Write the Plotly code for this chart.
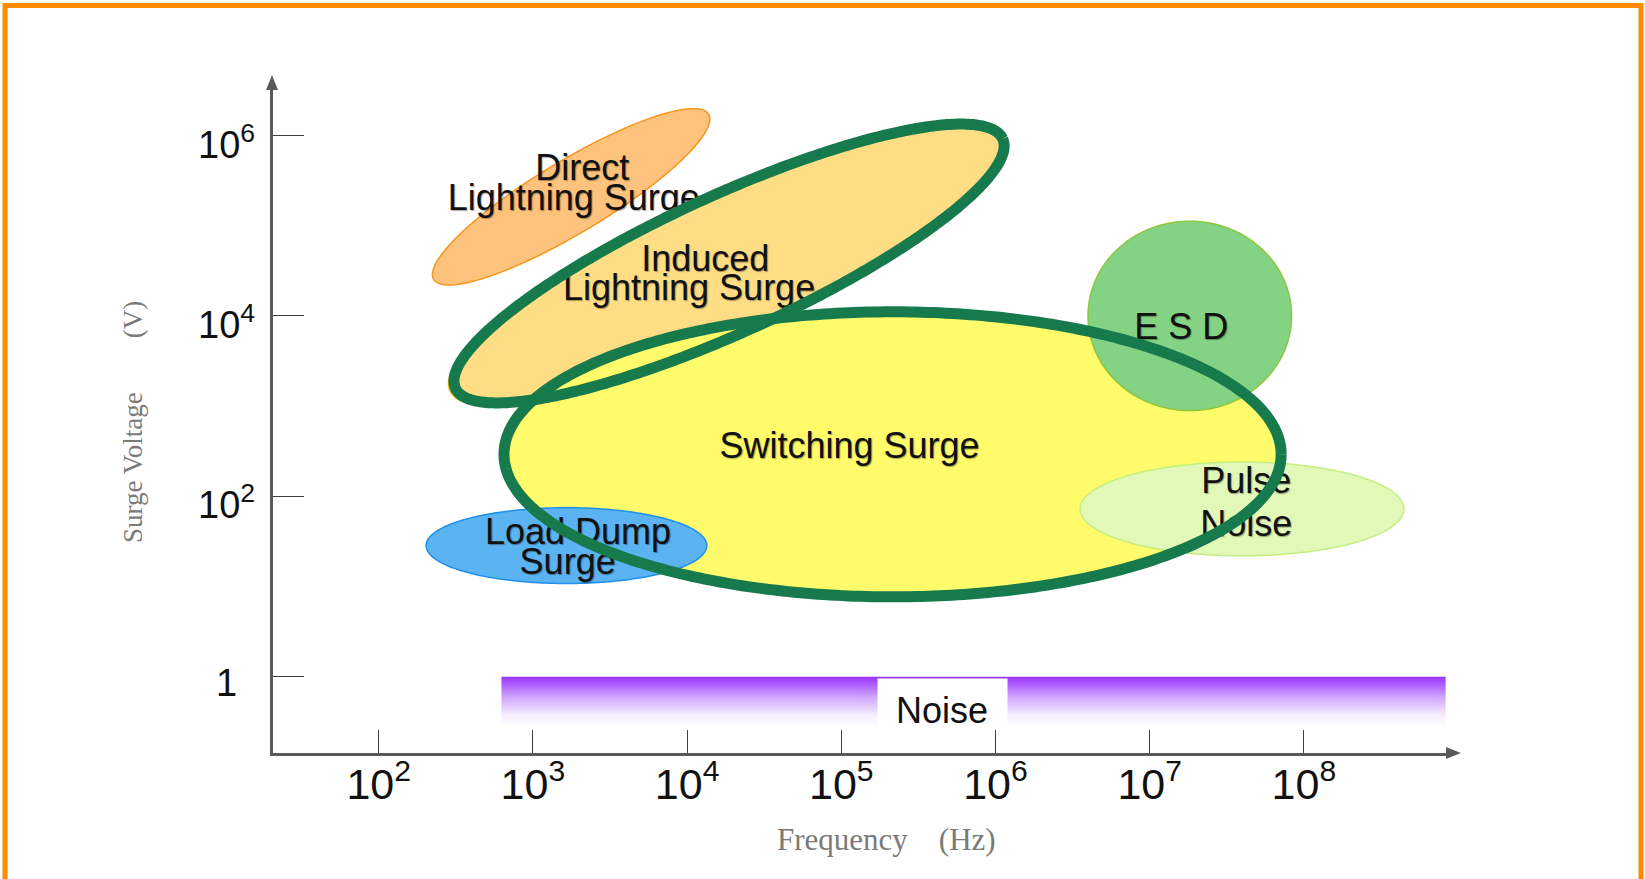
import numpy as np
import plotly.graph_objects as go

# ---- surge zones: centre frequency (Hz), centre voltage (V),
#      half extent in decades along frequency / voltage, tilt on screen (deg)
zone_names = ["Direct Lightning Surge", "Induced Lightning Surge", "Switching Surge",
              "Load Dump Surge", "ESD", "Pulse Noise"]
zone_freq = [1.77e3, 1.76e4, 2.15e5, 1.65e3, 1.82e7, 3.97e7]
zone_volt = [2.09e5, 3.61e4, 2.92e2, 2.84e1, 1.0e4, 7.24e1]
zone_freq_dec = [1.04, 1.96, 2.52, 0.91, 0.66, 1.05]
zone_volt_dec = [0.40, 0.76, 1.58, 0.42, 1.05, 0.52]
zone_tilt = [31, 24.5, 0, 0, 0, 0]

# green outlines over the induced lightning and switching zones
ring_freq = [1.87e4, 2.15e5]
ring_volt = [3.81e4, 2.92e2]
ring_freq_dec = [1.95, 2.52]
ring_volt_dec = [0.76, 1.58]
ring_tilt = [24.5, 0]

# zone labels (one entry per text line) and the zone they sit in
label_text = ["Direct", "Lightning Surge", "Induced", "Lightning Surge", "Switching Surge",
              "Load Dump", "Surge", "E S D", "Pulse", "Noise"]
label_freq = [2.09e3, 1.84e3, 1.31e4, 1.03e4, 1.13e5, 1.96e3, 1.68e3, 1.60e7, 4.23e7, 4.23e7]
label_volt = [4.03e5, 1.90e5, 3.92e4, 1.90e4, 3.33e2, 3.72e1, 1.75e1, 7.06e3, 1.38e2, 4.60e1]
label_zone = [0, 0, 1, 1, 2, 3, 3, 4, 5, 5]

# noise band
noise_freq = [6.25e2, 8.3e8]
noise_volt = [0.277, 1.0]
noise_label = "Noise"
noise_label_freq = 4.53e5
noise_label_volt = 0.512

# axes
freq_ticks = [1e2, 1e3, 1e4, 1e5, 1e6, 1e7, 1e8]
freq_tick_text = ["10<sup>%d</sup>" % n for n in range(2, 9)]
volt_ticks = [1, 1e2, 1e4, 1e6]
volt_tick_text = ["1", "10<sup>2</sup>", "10<sup>4</sup>", "10<sup>6</sup>"]

# ---- layout geometry (pixels)
W, H = 1645, 879
L, R, T, B = 273, 1448, 88, 753
x_range = [1.3145, 8.9345]
y_range = [-0.846, 6.5266]
PX_X = (R - L) / (x_range[1] - x_range[0])
PX_Y = (B - T) / (y_range[1] - y_range[0])


def paper_x(px):
    return (px - L) / (R - L)


def paper_y(py):
    return (B - py) / (B - T)


def ellipse(fc, vc, fdec, vdec, tilt, n=400):
    t = np.linspace(0, 2 * np.pi, n)
    u = fdec * PX_X * np.cos(t)
    v = vdec * PX_Y * np.sin(t)
    th = np.radians(tilt)
    xs = u * np.cos(th) - v * np.sin(th)
    ys = u * np.sin(th) + v * np.cos(th)
    return 10 ** (np.log10(fc) + xs / PX_X), 10 ** (np.log10(vc) + ys / PX_Y)


zone_style = [
    dict(fill="#FDC37C", line="#F7941D"),
    dict(fill="#FFDD85", line="#F0BC14"),
    dict(fill="#FFFB6A", line="#FFF25A"),
    dict(fill="#5BB3F2", line="#1E8FEA"),
    dict(fill="#84D384", line="#8DC63F"),
    dict(fill="#E1F8B9", line="#C4EE80"),
]
RING = "#177A4D"
SANS = "Liberation Sans, Arial, sans-serif"
NARROW = "Liberation Sans Narrow, Arial Narrow, sans-serif"
TEXT_FONT = dict(family=SANS, size=36, color="#111111", shadow="1px 1px 1px rgba(0,0,0,0.35)")

fig = go.Figure()


def add_labels(zone):
    idx = [i for i, z in enumerate(label_zone) if z == zone]
    fig.add_trace(go.Scatter(
        x=[label_freq[i] for i in idx], y=[label_volt[i] for i in idx],
        text=[label_text[i] for i in idx], mode="text", textposition="middle center",
        textfont=TEXT_FONT, hoverinfo="skip", showlegend=False))


def add_zone(i):
    xs, ys = ellipse(zone_freq[i], zone_volt[i], zone_freq_dec[i], zone_volt_dec[i], zone_tilt[i])
    fig.add_trace(go.Scatter(
        x=xs, y=ys, mode="lines", fill="toself", fillcolor=zone_style[i]["fill"],
        line=dict(color=zone_style[i]["line"], width=1.5, simplify=False), name=zone_names[i],
        hoverinfo="name", showlegend=False))
    add_labels(i)


for i in range(len(zone_names)):
    add_zone(i)

for j in range(len(ring_freq)):
    xs, ys = ellipse(ring_freq[j], ring_volt[j], ring_freq_dec[j], ring_volt_dec[j], ring_tilt[j])
    fig.add_trace(go.Scatter(x=xs, y=ys, mode="lines",
                             line=dict(color=RING, width=11, simplify=False),
                             hoverinfo="skip", showlegend=False))

# noise band with vertical purple fade
f0, f1 = noise_freq
v0, v1 = noise_volt
fig.add_trace(go.Scatter(
    x=[f0, f1, f1, f0, f0], y=[v0, v0, v1, v1, v0], mode="none", fill="toself",
    fillgradient=dict(type="vertical",
                      colorscale=[[0, "#FFFFFF"], [0.25, "#F4ECFF"], [0.6, "#CFA3FF"], [1, "#9933FF"]]),
    hoverinfo="skip", showlegend=False))

SERIF = dict(family="Liberation Serif, Times New Roman, serif", color="#7A7A7A")
annotations = [
    # white tab behind the noise label, then the label itself slightly lower
    dict(x=np.log10(noise_label_freq), y=np.log10(noise_label_volt), xref="x", yref="y",
         text=" ", showarrow=False, bgcolor="white", width=127, height=46,
         xanchor="center", yanchor="middle"),
    dict(x=np.log10(noise_label_freq), y=np.log10(noise_label_volt), xref="x", yref="y",
         text=noise_label, showarrow=False, yshift=-8, xanchor="center", yanchor="middle",
         font=dict(family=SANS, size=36, color="#111111")),
    dict(x=paper_x(886), y=paper_y(839), xref="paper", yref="paper", xanchor="center", yanchor="middle",
         text="Frequency\u00a0\u00a0\u00a0\u00a0(Hz)", showarrow=False, font=dict(size=31, **SERIF)),
    dict(x=paper_x(133), y=paper_y(422), xref="paper", yref="paper", textangle=-90,
         xanchor="center", yanchor="middle",
         text="Surge Voltage" + "\u00a0" * 8 + "(V)", showarrow=False, font=dict(size=27, **SERIF)),
]
for v, t in zip(volt_ticks, volt_tick_text):
    annotations.append(dict(x=paper_x(226), y=np.log10(v), xref="paper", yref="y", yshift=-6,
                            text=t, showarrow=False, xanchor="center", yanchor="middle",
                            font=dict(family=NARROW, size=38, color="#111111")))

AXIS = "#5A5A5A"
shapes = [
    # arrow heads
    dict(type="path", xref="paper", yref="paper", fillcolor=AXIS, line=dict(width=0),
         path="M %f,%f L %f,%f L %f,%f Z" % (paper_x(1461), paper_y(753), paper_x(1446), paper_y(747),
                                            paper_x(1446), paper_y(759))),
    dict(type="path", xref="paper", yref="paper", fillcolor=AXIS, line=dict(width=0),
         path="M %f,%f L %f,%f L %f,%f Z" % (paper_x(272), paper_y(75), paper_x(266), paper_y(90),
                                            paper_x(278), paper_y(90))),
    # orange frame
    dict(type="rect", xref="paper", yref="paper", x0=paper_x(5), x1=paper_x(1641),
         y0=paper_y(5.5), y1=paper_y(905), line=dict(color="#FF8A00", width=5)),
]

fig.update_layout(
    width=W, height=H, margin=dict(l=L, r=W - R, t=T, b=H - B),
    paper_bgcolor="white", plot_bgcolor="white", showlegend=False,
    annotations=annotations, shapes=shapes,
    xaxis=dict(type="log", range=x_range, showgrid=False, zeroline=False,
               showline=True, linecolor=AXIS, linewidth=3,
               ticks="inside", ticklen=23, tickwidth=1.2, tickcolor="#3F3F3F",
               tickvals=freq_ticks, ticktext=freq_tick_text, ticklabelstandoff=-9,
               tickfont=dict(family=NARROW, size=43, color="#111111")),
    yaxis=dict(type="log", range=y_range, showgrid=False, zeroline=False,
               showline=True, linecolor=AXIS, linewidth=3,
               ticks="inside", ticklen=31, tickwidth=1.2, tickcolor="#3F3F3F",
               tickvals=volt_ticks, showticklabels=False),
)

fig.write_html("out.html", config={"displayModeBar": False},
               post_script="document.body.style.margin='0px';document.body.style.overflow='hidden';")
